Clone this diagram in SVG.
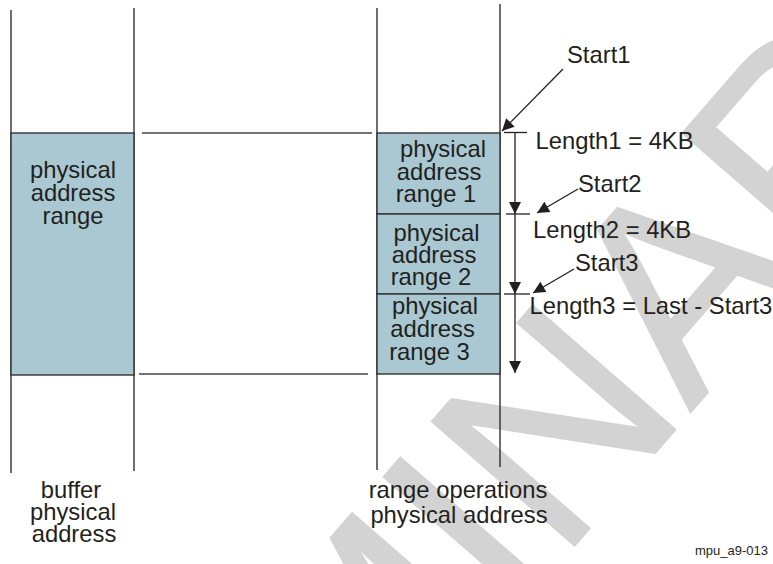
<svg xmlns="http://www.w3.org/2000/svg" width="773" height="564" viewBox="0 0 773 564">
  <style>
    text { font-family: "Liberation Sans", Arial, sans-serif; fill: #231f20; }
    .lbl { font-size: 23.8px; }
    .mid { text-anchor: middle; }
    .col { stroke: #231f20; stroke-width: 1.3; fill: none; }
    .hl { stroke: #444; stroke-width: 1.6; fill: none; }
    .box { fill: #a9c8d1; stroke: #333; stroke-width: 1.4; }
    .ln { stroke: #231f20; stroke-width: 1.3; fill: none; }
    .wm { font-size: 275px; fill: #d3d3d3; stroke: #d3d3d3; stroke-width: 2; }
  </style>
  <defs>
    <marker id="ptr" viewBox="0 0 10 10" refX="10" refY="5" markerUnits="userSpaceOnUse" markerWidth="15" markerHeight="12" orient="auto">
      <path d="M0,0 L10,5 L0,10 z" fill="#231f20"/>
    </marker>
    <marker id="dim" viewBox="0 0 10 10" refX="10" refY="5" markerUnits="userSpaceOnUse" markerWidth="12" markerHeight="13" orient="auto">
      <path d="M0,0 L10,5 L0,10 z" fill="#231f20"/>
    </marker>
  </defs>
  <rect width="773" height="564" fill="#ffffff"/>

  <g id="watermark">
    <text class="wm" transform="translate(-162,1393) rotate(-49)">PRELIMINARY</text>
  </g>

  <g id="buffer-column">
    <line class="col" x1="11" y1="10" x2="11" y2="473"/>
    <line class="col" x1="134" y1="8" x2="134" y2="471"/>
    <rect class="box" x="11" y="133" width="123" height="242"/>
    <text class="lbl mid" x="73" y="178">physical</text>
    <text class="lbl mid" x="73" y="201">address</text>
    <text class="lbl mid" x="73" y="224">range</text>
    <text class="lbl mid" x="71" y="498">buffer</text>
    <text class="lbl mid" x="73" y="519.5">physical</text>
    <text class="lbl mid" x="74" y="541.5">address</text>
  </g>

  <g id="range-column">
    <line class="col" x1="377" y1="8" x2="377" y2="470"/>
    <line class="col" x1="500" y1="4" x2="500" y2="467"/>
    <text class="lbl mid" x="458" y="498">range operations</text>
    <text class="lbl mid" x="459" y="523">physical address</text>
  </g>

  <g id="range1">
    <rect class="box" x="377" y="133" width="123" height="81"/>
    <text class="lbl mid" x="443" y="157">physical</text>
    <text class="lbl mid" x="439" y="180">address</text>
    <text class="lbl mid" x="436" y="202">range 1</text>
  </g>
  <g id="range2">
    <rect class="box" x="377" y="214" width="123" height="80"/>
    <text class="lbl mid" x="436.5" y="241">physical</text>
    <text class="lbl mid" x="434" y="263">address</text>
    <text class="lbl mid" x="431" y="285">range 2</text>
  </g>
  <g id="range3">
    <rect class="box" x="377" y="294" width="123" height="80"/>
    <text class="lbl mid" x="435" y="314">physical</text>
    <text class="lbl mid" x="432.5" y="337">address</text>
    <text class="lbl mid" x="429.5" y="360">range 3</text>
  </g>

  <g id="annotations">
    <text class="lbl" x="567" y="63">Start1</text>
    <text class="lbl" x="535.5" y="149">Length1 = 4KB</text>
    <text class="lbl" x="578" y="192">Start2</text>
    <text class="lbl" x="533" y="237.5">Length2 = 4KB</text>
    <text class="lbl" x="575" y="271">Start3</text>
    <text class="lbl" x="529.5" y="313.5">Length3 = Last - Start3</text>
    <text x="768" y="555" font-size="13" text-anchor="end">mpu_a9-013</text>
  </g>

  <g id="connectors">
    <line class="hl" x1="142" y1="133" x2="372" y2="133"/>
    <line class="hl" x1="139" y1="374" x2="368" y2="374"/>
    <line class="ln" x1="563" y1="69" x2="502" y2="131" marker-end="url(#ptr)"/>
    <line class="ln" x1="578" y1="189" x2="537" y2="213" marker-end="url(#ptr)"/>
    <line class="ln" x1="574" y1="269" x2="533" y2="293" marker-end="url(#ptr)"/>
    <line class="ln" x1="504" y1="132.5" x2="527" y2="132.5"/>
    <line class="ln" x1="506" y1="214" x2="530" y2="214"/>
    <line class="ln" x1="504" y1="294" x2="530" y2="294"/>
    <line class="ln" x1="515" y1="133" x2="515" y2="214" marker-end="url(#dim)"/>
    <line class="ln" x1="515" y1="214" x2="515" y2="294" marker-end="url(#dim)"/>
    <line class="ln" x1="515" y1="294" x2="515" y2="373" marker-end="url(#dim)"/>
  </g>
</svg>
